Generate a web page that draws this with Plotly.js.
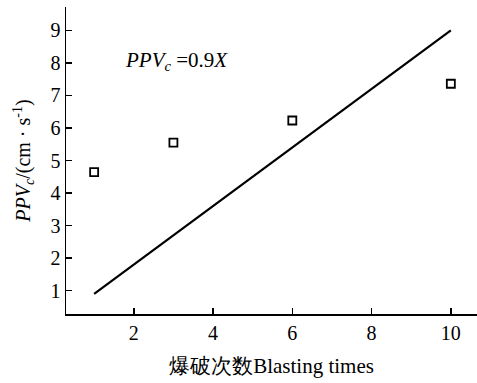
<!DOCTYPE html>
<html><head><meta charset="utf-8">
<script src="https://cdn.plot.ly/plotly-3.0.1.min.js"></script>
<style>html,body{margin:0;padding:0;background:#fff}#c{width:477px;height:383px}</style>
</head><body><div id="c"></div>
<script>
const blastTimes = [1, 3, 6, 10];
const ppvMeasured = [4.64, 5.55, 6.23, 7.36];
const fitX = [1, 10];
const fitY = [0.9, 9.0];
const xTicks = [2, 4, 6, 8, 10];
const yTicks = [1, 2, 3, 4, 5, 6, 7, 8, 9];

const serif = "Liberation Serif";
const traces = [
  {x: fitX, y: fitY, mode: 'lines', line: {color: '#000', width: 2.2}, hoverinfo: 'skip'},
  {x: blastTimes, y: ppvMeasured, mode: 'markers',
   marker: {symbol: 'square-open', size: 8, color: '#000', line: {width: 1.8, color: '#000'}}}
];
const layout = {
  width: 477, height: 383,
  margin: {l: 66, r: 0, t: 7, b: 69},
  paper_bgcolor: '#fff', plot_bgcolor: '#fff',
  showlegend: false,
  font: {family: serif, color: '#000', size: 20},
  xaxis: {
    range: [0.29, 10.66], tickvals: xTicks, ticktext: xTicks.map(String),
    ticks: 'inside', ticklen: 6, tickwidth: 1.5, tickcolor: '#000',
    showline: true, linecolor: '#000', linewidth: 1.5, showgrid: false, zeroline: false,
    tickfont: {size: 20, family: serif},
    title: {text: "爆破次数Blasting times", font: {size: 21, family: serif}, standoff: 16}
  },
  yaxis: {
    range: [0.28, 9.72], tickvals: yTicks, ticktext: yTicks.map(String),
    ticks: 'inside', ticklen: 6, tickwidth: 1.5, tickcolor: '#000',
    showline: true, linecolor: '#000', linewidth: 1.5, showgrid: false, zeroline: false,
    tickfont: {size: 20, family: serif},
    title: {text: "<i>PPV<sub>c</sub></i>/(cm · s<sup>-1</sup>)", font: {size: 20, family: serif}, standoff: 14}
  },
  annotations: [{
    x: 1.74, y: 8.05, xref: 'x', yref: 'y', xanchor: 'left', yanchor: 'middle', showarrow: false,
    text: "<i>PPV<sub>c</sub></i> =0.9<i>X</i>", font: {size: 21, family: serif, color: '#000'}
  }]
};
Plotly.newPlot('c', traces, layout, {displayModeBar: false, staticPlot: true});
</script></body></html>
